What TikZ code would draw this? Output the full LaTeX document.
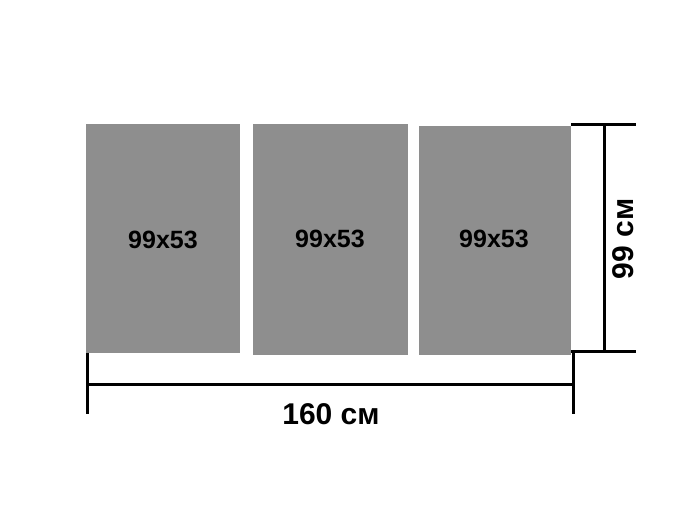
\documentclass[tikz,border=0pt]{standalone}
\usepackage{fontspec}
\setmainfont{Liberation Sans}
\definecolor{panelgray}{RGB}{142,142,142}
\begin{document}
\begin{tikzpicture}[x=1pt,y=-1pt,
  panel/.style={fill=panelgray,draw=none},
  dimline/.style={line width=3pt,black},
  plabel/.style={font=\bfseries\fontsize{25}{30}\selectfont,inner sep=0pt},
  dlabel/.style={font=\bfseries\fontsize{30}{36}\selectfont,inner sep=0pt}]
\useasboundingbox[fill=white] (0,0) rectangle (677,518);
\fill[panel] (86,124) rectangle (240,353);
\fill[panel] (253,124) rectangle (408,355);
\fill[panel] (419,126) rectangle (571,355);
\node[plabel] (p1) at (163,240) {99x53};
\node[plabel] (p2) at (330,239) {99x53};
\node[plabel] (p3) at (494,239) {99x53};
% horizontal dimension
\coordinate (hl) at (87,384);
\coordinate (hr) at (573,384);
\draw[dimline] (87,353) -- (87,414);
\draw[dimline] (573,353) -- (573,414);
\draw[dimline] (hl) -- (hr);
\node[dlabel] (w) at (331,414) {160 см};
% vertical dimension
\coordinate (vt) at (604,125);
\coordinate (vb) at (604,352);
\draw[dimline] (571,125) -- (636,125);
\draw[dimline] (571,352) -- (636,352);
\draw[dimline] (vt) -- (vb);
\node[dlabel,rotate=90] (h) at (623,239) {99 см};
\end{tikzpicture}
\end{document}
